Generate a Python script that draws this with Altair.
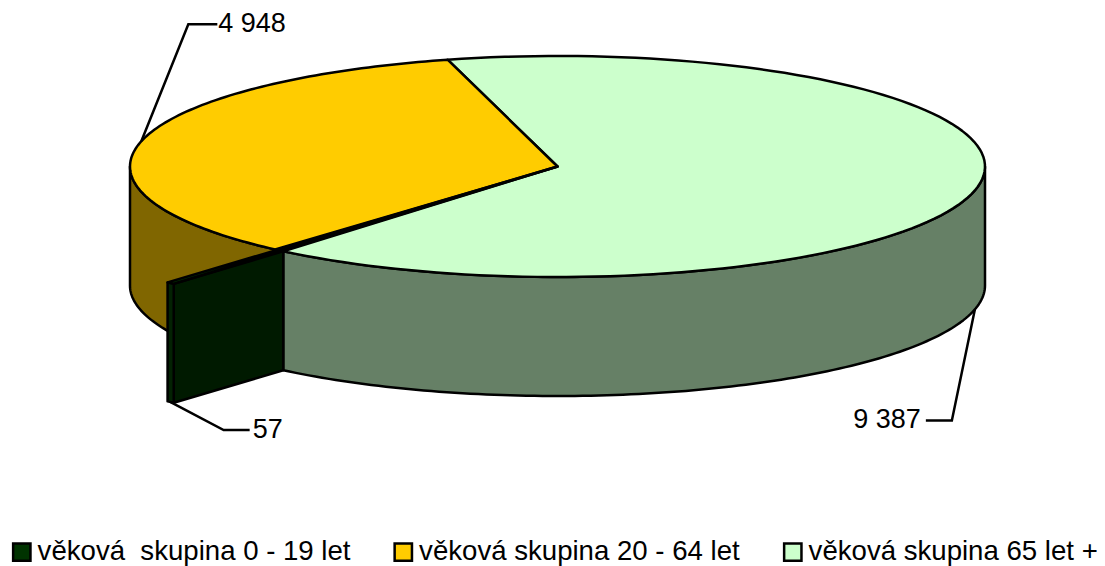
import math
import altair as alt

groups = ["věková\u00a0 skupina 0 - 19 let", "věková skupina 20 - 64 let", "věková skupina 65 let +"]
values = [57, 4948, 9387]
value_labels = ["57", "4 948", "9 387"]
top_colors = ["#003300", "#FFCC00", "#CCFFCC"]
side_colors = ["#001A00", "#806600", "#668066"]
sliver_color = "#032203"

# geometry of the drawing (page px minus the 8 px margin)
CX, CY, RX, RY, DEPTH = 549.5, 158.5, 427.5, 110.5, 119
START = -14.9      # clockwise from 12 o'clock: the green slice starts here
SPIKE = 1.39       # the tiny slice is drawn longer than the radius
SPREAD = 0.55
FONT = 27
LEGEND_FONT = 27.6
LW = 2.5

total = sum(values)
sweep = [v / total * 360 for v in values]
g0, g1 = START, START + sweep[2]
d0, d1 = g1, g1 + sweep[0]
o0, o1 = d1, d1 + sweep[1]


def pt(a, r=1.0, dy=0.0):
    t = math.radians(a)
    return [CX + RX * r * math.sin(t), CY - RY * r * math.cos(t) + dy]


def arc(a, b, dy=0.0, n=120):
    return [pt(a + (b - a) * i / n, 1.0, dy) for i in range(n + 1)]


def poly(ring, fill=None, group=None):
    ring = list(ring) + [ring[0]]
    return {"type": "Feature", "geometry": {"type": "Polygon", "coordinates": [ring]},
            "properties": {"fill": fill, "group": group}}


def line(coords):
    return {"type": "Feature", "geometry": {"type": "LineString", "coordinates": coords}, "properties": {}}


proj = alt.Projection(type="identity", scale=1, translate=[0, 0])


def shapes(features):
    m = alt.Chart(alt.Data(values=features)).mark_geoshape(stroke="black", strokeWidth=LW, strokeJoin="round")
    return m.encode(fill=alt.Fill("properties.fill:N", scale=None, legend=None)).project(**proj.to_dict())


# side walls (only the visible front part)
side_o = poly(arc(d1, 270) + arc(270, d1, DEPTH), side_colors[1])
side_g = poly(arc(90, g1) + arc(g1, 90, DEPTH), side_colors[2])

# the top faces
top_features = [
    poly([[CX, CY]] + arc(g0, g1), group=groups[2]),
    poly([[CX, CY]] + arc(o0, o1), group=groups[1]),
]
mid_d = (d0 + d1) / 2
t0 = mid_d - sweep[0] / 2 * SPREAD
t1 = mid_d + sweep[0] / 2 * SPREAD

face = poly([pt(d0), pt(t0, SPIKE), pt(t0, SPIKE, DEPTH), pt(d0, 1.0, DEPTH)], side_colors[0])
sliver = poly([pt(t0, SPIKE), pt(t1, SPIKE), pt(t1, SPIKE, DEPTH), pt(t0, SPIKE, DEPTH)], sliver_color)
wedge = poly([[CX, CY], pt(t0, SPIKE), pt(t1, SPIKE)], top_colors[0])

# leader lines, anchored at the middle of each slice
mid_o = (o0 + o1) / 2
mid_g = (g0 + g1) / 2
a_o = pt(mid_o)
a_g = pt(mid_g, 1.0, DEPTH)
a_d = pt(mid_d, SPIKE, DEPTH)
leader_o = [a_o, [a_o[0] + 47, a_o[1] - 117], [a_o[0] + 76, a_o[1] - 117]]
leader_g = [a_g, [a_g[0] - 23, a_g[1] + 111], [a_g[0] - 49, a_g[1] + 111]]
leader_d = [a_d, [a_d[0] + 53, a_d[1] + 28], [a_d[0] + 79, a_d[1] + 28]]

sides = shapes([side_o, side_g])
dark = shapes([face, sliver, wedge])
tops = alt.Chart(alt.Data(values=top_features)).mark_geoshape(
    stroke="black", strokeWidth=LW, strokeJoin="round"
).encode(
    fill=alt.Fill(
        "properties.group:N",
        scale=alt.Scale(domain=groups, range=top_colors),
        legend=alt.Legend(
            title=None, orient="none", direction="horizontal", columns=3,
            legendX=0, legendY=530, symbolType="square", symbolSize=300,
            symbolStrokeColor="black", symbolStrokeWidth=LW, symbolOpacity=1,
            labelFont="Liberation Sans", labelFontSize=LEGEND_FONT, labelColor="#000000",
            labelLimit=500, labelOffset=2, columnPadding=38.5, padding=0,
        ),
    )
).project(**proj.to_dict())
leaders = alt.Chart(alt.Data(values=[line(leader_o), line(leader_g), line(leader_d)])).mark_geoshape(
    filled=False, stroke="black", strokeWidth=LW
).project(**proj.to_dict())

label_rows = [
    {"x": leader_d[2][0] + 3, "y": leader_d[2][1], "t": value_labels[0]},
    {"x": leader_o[2][0] + 1, "y": leader_o[2][1], "t": value_labels[1]},
]
label_rows_r = [{"x": leader_g[2][0] - 5, "y": leader_g[2][1], "t": value_labels[2]}]


def texts(rows, align):
    return alt.Chart(alt.Data(values=rows)).mark_text(
        font="Liberation Sans", fontSize=FONT, color="#000000", align=align, baseline="middle"
    ).encode(
        x=alt.X("x:Q", scale=None, axis=None),
        y=alt.Y("y:Q", scale=None, axis=None),
        text="t:N",
    )


chart = alt.layer(
    sides, tops, dark, leaders, texts(label_rows, "left"), texts(label_rows_r, "right")
).resolve_scale(fill="independent").properties(
    width=1089, height=558, padding=0, autosize=alt.AutoSizeParams(type="none"),
).configure_view(stroke=None)

chart.save("out.html", embed_options={"renderer": "svg", "actions": False})
